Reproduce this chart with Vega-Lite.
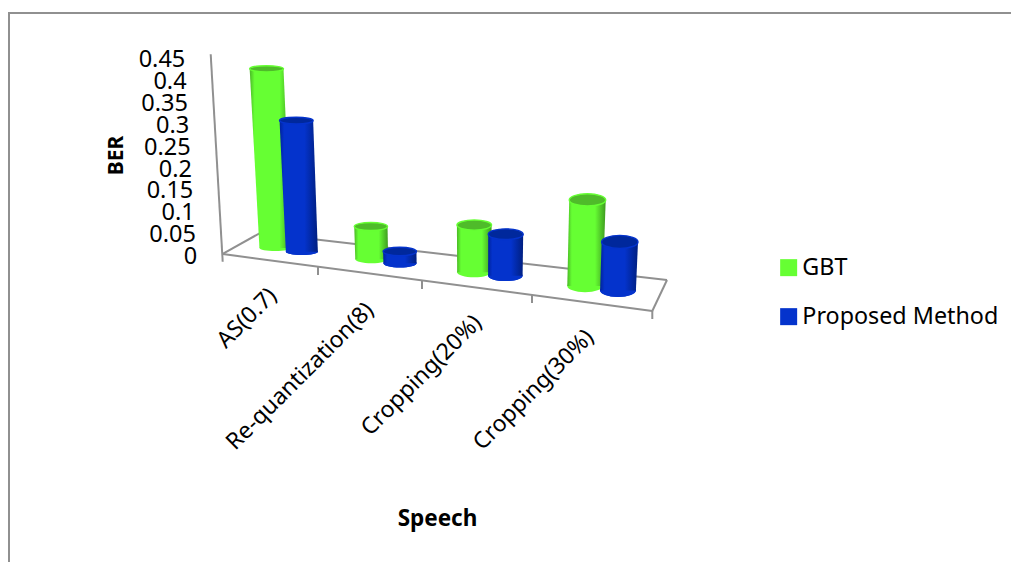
{
  "$schema": "https://vega.github.io/schema/vega-lite/v6.json",
  "width": 1011,
  "height": 562,
  "padding": 0,
  "autosize": {"type": "none"},
  "background": "white",
  "config": {"view": {"stroke": null}, "font": "Noto Sans"},
  "datasets": {
    "ber": [
      {"category": "AS(0.7)", "series": "GBT", "value": 0.41},
      {"category": "AS(0.7)", "series": "Proposed Method", "value": 0.30},
      {"category": "Re-quantization(8)", "series": "GBT", "value": 0.075},
      {"category": "Re-quantization(8)", "series": "Proposed Method", "value": 0.027},
      {"category": "Cropping(20%)", "series": "GBT", "value": 0.108},
      {"category": "Cropping(20%)", "series": "Proposed Method", "value": 0.095},
      {"category": "Cropping(30%)", "series": "GBT", "value": 0.197},
      {"category": "Cropping(30%)", "series": "Proposed Method", "value": 0.111}
    ],
    "ticks": [
      {"t": 0}, {"t": 0.05}, {"t": 0.1}, {"t": 0.15}, {"t": 0.2},
      {"t": 0.25}, {"t": 0.3}, {"t": 0.35}, {"t": 0.4}, {"t": 0.45}
    ],
    "frameLines": [
      {"a": 0.08, "b": 0.5538, "c": 10.11, "d": 0.5538},
      {"a": 0.09, "b": 0.5561, "c": 0.09, "d": -0.7025},
      {"a": 2.107, "b": 0.4593, "c": 2.227, "d": -0.0153},
      {"a": 2.227, "b": 0.0023, "c": 6.523, "d": -0.1281},
      {"a": 2.227, "b": 0.0023, "c": 2.6, "d": 0.0503},
      {"a": 2.6, "b": 0.0503, "c": 6.67, "d": -0.0572},
      {"a": 6.67, "b": -0.0572, "c": 6.523, "d": -0.1281},
      {"a": 3.18, "b": -0.0275, "c": 3.18, "d": -0.0458},
      {"a": 4.22, "b": -0.0595, "c": 4.22, "d": -0.0778},
      {"a": 5.32, "b": -0.0915, "c": 5.32, "d": -0.1098},
      {"a": 6.523, "b": -0.1281, "c": 6.523, "d": -0.1465}
    ]
  },
  "data": {"name": "ber"},
  "transform": [
    {"calculate": "indexof(['AS(0.7)','Re-quantization(8)','Cropping(20%)','Cropping(30%)'], datum.category)", "as": "i"},
    {"calculate": "datum.series === 'GBT' ? 0 : 1", "as": "s"},
    {"calculate": "[[2.753,3.717,4.742,5.85],[3.0185,4.0,5.0535,6.18]][datum.s][datum.i]", "as": "cx"},
    {"calculate": "[[0.016,-0.0098,-0.0396,-0.0709],[0.0076,-0.019,-0.0474,-0.081]][datum.s][datum.i]", "as": "yBase"},
    {"calculate": "datum.yBase + datum.value", "as": "yTop"},
    {"calculate": "datum.value * 437", "as": "h"},
    {"calculate": "datum.cx + (datum.cx - 4.7) * 0.00025 * datum.h", "as": "cxTop"},
    {"calculate": "0.16 + 0.006 * (datum.cx - 3)", "as": "hwBase"},
    {"calculate": "datum.hwBase + 0.00006 * datum.h", "as": "hwTop"},
    {"calculate": "(3 + (datum.cx - 2.7)) / 100", "as": "ry"},
    {"calculate": "pow(200 * datum.hwBase, 2)", "as": "sizeBase"},
    {"calculate": "pow(200 * datum.hwTop, 2)", "as": "sizeTop"},
    {"calculate": "datum.ry / datum.hwBase", "as": "rb"},
    {"calculate": "datum.ry / datum.hwTop", "as": "rt"},
    {"calculate": "'M-1,0C-1,'+(-0.5523*datum.rb)+',-0.5523,'+(-datum.rb)+',0,'+(-datum.rb)+'C0.5523,'+(-datum.rb)+',1,'+(-0.5523*datum.rb)+',1,0C1,'+(0.5523*datum.rb)+',0.5523,'+datum.rb+',0,'+datum.rb+'C-0.5523,'+datum.rb+',-1,'+(0.5523*datum.rb)+',-1,0Z'", "as": "pathBase"},
    {"calculate": "'M-1,0C-1,'+(-0.5523*datum.rt)+',-0.5523,'+(-datum.rt)+',0,'+(-datum.rt)+'C0.5523,'+(-datum.rt)+',1,'+(-0.5523*datum.rt)+',1,0C1,'+(0.5523*datum.rt)+',0.5523,'+datum.rt+',0,'+datum.rt+'C-0.5523,'+datum.rt+',-1,'+(0.5523*datum.rt)+',-1,0Z'", "as": "pathTop"}
  ],
  "layer": [
    {
      "data": {"name": "frameLines"},
      "transform": [],
      "mark": {"type": "rule", "color": "#909090", "strokeWidth": 2},
      "encoding": {
        "x": {
          "field": "a", "type": "quantitative",
          "scale": {"domain": [0, 10.11], "nice": false, "zero": false},
          "axis": {
            "title": "Speech", "titleFont": "Noto Sans", "titleFontSize": 22.5, "titleFontWeight": "bold",
            "titleColor": "#000", "titleX": 437, "titleY": -44, "titleBaseline": "middle", "titleAlign": "center",
            "labels": false, "ticks": false, "domain": false, "grid": false
          }
        },
        "y": {
          "field": "b", "type": "quantitative",
          "scale": {"domain": [-0.7025, 0.5835], "nice": false, "zero": false},
          "axis": {
            "title": "BER", "titleFont": "Noto Sans", "titleFontSize": 21, "titleFontWeight": "bold",
            "titleColor": "#000", "titleX": 116, "titleY": 155, "titleAngle": -90, "titleBaseline": "middle", "titleAlign": "center",
            "labels": false, "ticks": false, "domain": false, "grid": false
          }
        },
        "x2": {"field": "c"},
        "y2": {"field": "d"}
      }
    },
    {
      "mark": {"type": "point", "filled": true, "opacity": 1},
      "encoding": {
        "x": {"field": "cx", "type": "quantitative"},
        "y": {"field": "yBase", "type": "quantitative"},
        "shape": {"field": "pathBase", "type": "nominal", "scale": null},
        "size": {"field": "sizeBase", "type": "quantitative", "scale": null},
        "color": {
          "field": "series", "type": "nominal",
          "scale": {"domain": ["GBT", "Proposed Method"], "range": ["#66ff33", "#0433cc"]},
          "legend": {
            "title": null, "orient": "none", "legendX": 777, "legendY": 256,
            "symbolType": "square", "symbolSize": 289, "symbolStrokeWidth": 0, "symbolOpacity": 1,
            "labelFont": "Noto Sans", "labelFontSize": 23.3, "labelColor": "#000", "labelOffset": 2,
            "rowPadding": 25, "labelLimit": 300
          }
        }
      }
    },
    {
      "transform": [
        {"filter": "datum.s === 0"},
        {"fold": ["yBase", "yTop"], "as": ["end", "yEnd"]},
        {"calculate": "datum.end === 'yBase' ? datum.cx - datum.hwBase : datum.cxTop - datum.hwTop", "as": "xL"},
        {"calculate": "datum.end === 'yBase' ? datum.cx + datum.hwBase : datum.cxTop + datum.hwTop", "as": "xR"}
      ],
      "mark": {"type": "area", "orient": "horizontal",
        "fill": {"gradient": "linear", "x1": 0, "y1": 0, "x2": 1, "y2": 0,
          "stops": [{"offset": 0, "color": "#4ab826"}, {"offset": 0.12, "color": "#66ff33"}, {"offset": 0.72, "color": "#66ff33"}, {"offset": 1, "color": "#3f9a20"}]}},
      "encoding": {
        "y": {"field": "yEnd", "type": "quantitative"},
        "x": {"field": "xL", "type": "quantitative", "stack": null},
        "x2": {"field": "xR"},
        "detail": {"field": "category"}
      }
    },
    {
      "transform": [{"filter": "datum.s === 0"}],
      "mark": {"type": "point", "filled": true, "opacity": 1, "fill": "#4fbb2a", "stroke": "#66ff33", "strokeWidth": 1.4},
      "encoding": {
        "x": {"field": "cxTop", "type": "quantitative"},
        "y": {"field": "yTop", "type": "quantitative"},
        "shape": {"field": "pathTop", "type": "nominal", "scale": null},
        "size": {"field": "sizeTop", "type": "quantitative", "scale": null}
      }
    },
    {
      "transform": [
        {"filter": "datum.s === 1"}
      ],
      "mark": {"type": "point", "filled": true, "opacity": 1, "fill": "#0433cc"},
      "encoding": {
        "x": {"field": "cx", "type": "quantitative"},
        "y": {"field": "yBase", "type": "quantitative"},
        "shape": {"field": "pathBase", "type": "nominal", "scale": null},
        "size": {"field": "sizeBase", "type": "quantitative", "scale": null}
      }
    },
    {
      "transform": [
        {"filter": "datum.s === 1"},
        {"fold": ["yBase", "yTop"], "as": ["end", "yEnd"]},
        {"calculate": "datum.end === 'yBase' ? datum.cx - datum.hwBase : datum.cxTop - datum.hwTop", "as": "xL"},
        {"calculate": "datum.end === 'yBase' ? datum.cx + datum.hwBase : datum.cxTop + datum.hwTop", "as": "xR"}
      ],
      "mark": {"type": "area", "orient": "horizontal",
        "fill": {"gradient": "linear", "x1": 0, "y1": 0, "x2": 1, "y2": 0,
          "stops": [{"offset": 0, "color": "#00229c"}, {"offset": 0.12, "color": "#0433cc"}, {"offset": 0.65, "color": "#0433cc"}, {"offset": 1, "color": "#001f80"}]}},
      "encoding": {
        "y": {"field": "yEnd", "type": "quantitative"},
        "x": {"field": "xL", "type": "quantitative", "stack": null},
        "x2": {"field": "xR"},
        "detail": {"field": "category"}
      }
    },
    {
      "transform": [{"filter": "datum.s === 1"}],
      "mark": {"type": "point", "filled": true, "opacity": 1, "fill": "#00289c", "stroke": "#0433cc", "strokeWidth": 1.4},
      "encoding": {
        "x": {"field": "cxTop", "type": "quantitative"},
        "y": {"field": "yTop", "type": "quantitative"},
        "shape": {"field": "pathTop", "type": "nominal", "scale": null},
        "size": {"field": "sizeTop", "type": "quantitative", "scale": null}
      }
    },
    {
      "transform": [
        {"filter": "datum.s === 0"},
        {"calculate": "[2.73,3.70,4.78,5.90][datum.i]", "as": "lx"},
        {"calculate": "[-0.085,-0.118,-0.147,-0.18][datum.i]", "as": "ly"}
      ],
      "mark": {"type": "text", "angle": 315, "align": "right", "baseline": "middle", "fontSize": 23, "font": "Noto Sans", "color": "#000"},
      "encoding": {
        "x": {"field": "lx", "type": "quantitative"},
        "y": {"field": "ly", "type": "quantitative"},
        "text": {"field": "category", "type": "nominal"}
      }
    },
    {
      "data": {"name": "ticks"},
      "transform": [{"calculate": "1.973 - 0.267 * datum.t", "as": "lx"}],
      "mark": {"type": "text", "align": "right", "baseline": "middle", "dy": 2, "fontSize": 23.5, "font": "Noto Sans", "color": "#000"},
      "encoding": {
        "x": {"field": "lx", "type": "quantitative"},
        "y": {"field": "t", "type": "quantitative"},
        "text": {"field": "t", "type": "quantitative", "format": ".2~f"}
      }
    }
  ]
}
